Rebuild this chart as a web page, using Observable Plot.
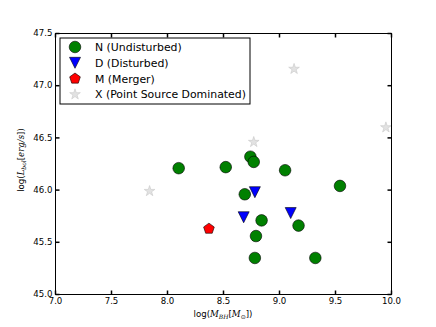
<!DOCTYPE html>
<html>
<head>
<meta charset="utf-8">
<script src="https://cdn.jsdelivr.net/npm/d3@7"></script>
<script src="https://cdn.jsdelivr.net/npm/@observablehq/plot@0.6"></script>
<style>
  html, body { margin: 0; padding: 0; background: #fff; }
  #chart svg { display: block; }
</style>
</head>
<body>
<div id="chart"></div>
<script>
// Data
const nMass = [8.10, 8.52, 8.74, 8.77, 9.05, 9.54, 8.69, 8.84, 9.17, 8.79, 8.78, 9.32];
const nLum  = [46.21, 46.22, 46.32, 46.27, 46.19, 46.04, 45.96, 45.71, 45.66, 45.56, 45.35, 45.35];
const dMass = [8.78, 8.68, 9.10];
const dLum  = [45.98, 45.74, 45.78];
const mMass = [8.37];
const mLum  = [45.63];
const xMass = [9.13, 9.95, 8.77, 7.84];
const xLum  = [47.16, 46.60, 46.46, 45.99];
const xTicks = [7.0, 7.5, 8.0, 8.5, 9.0, 9.5, 10.0];
const yTicks = [45.0, 45.5, 46.0, 46.5, 47.0, 47.5];
const legendLabels = ["N (Undisturbed)", "D (Disturbed)", "M (Merger)", "X (Point Source Dominated)"];

const zip = (xs, ys) => xs.map((x, i) => ({x, y: ys[i]}));
const N = zip(nMass, nLum), D = zip(dMass, dLum), M = zip(mMass, mLum), X = zip(xMass, xLum);

// custom symbols (size = area = pi r^2)
const rad = s => Math.sqrt(s / Math.PI);
const triDown = {draw(c, s) { const r = rad(s); c.moveTo(0, r); c.lineTo(-r, -r); c.lineTo(r, -r); c.closePath(); }};
const pentagon = {draw(c, s) { const r = rad(s); for (let i = 0; i < 5; i++) { const a = -Math.PI/2 + i * 2*Math.PI/5; const px = r*Math.cos(a), py = r*Math.sin(a); i ? c.lineTo(px, py) : c.moveTo(px, py); } c.closePath(); }};
const star = {draw(c, s) { const r = rad(s), ri = r * 0.381966; for (let i = 0; i < 10; i++) { const a = -Math.PI/2 + i * Math.PI/5; const rr = i % 2 ? ri : r; const px = rr*Math.cos(a), py = rr*Math.sin(a); i ? c.lineTo(px, py) : c.moveTo(px, py); } c.closePath(); }};
const T = 4;
const tickUp = {draw(c) { c.moveTo(0, 0); c.lineTo(0, -T); }};
const tickDown = {draw(c) { c.moveTo(0, 0); c.lineTo(0, T); }};
const tickRight = {draw(c) { c.moveTo(0, 0); c.lineTo(T, 0); }};
const tickLeft = {draw(c) { c.moveTo(0, 0); c.lineTo(-T, 0); }};

const xd = [xTicks[0], xTicks[xTicks.length-1]], yd = [yTicks[0], yTicks[yTicks.length-1]];

const plot = Plot.plot({
  width: 436, height: 327,
  marginLeft: 55, marginRight: 45, marginTop: 33, marginBottom: 33,
  style: {fontFamily: "DejaVu Sans", fontSize: "8.6px", background: "#fff", overflow: "visible"},
  x: {domain: xd, label: null},
  y: {domain: yd, label: null},
  marks: [
    Plot.axisX({ticks: xTicks, tickSize: 0, tickPadding: 3, tickFormat: d => d.toFixed(1), fill: "#000"}),
    Plot.axisY({ticks: yTicks, tickSize: 0, tickPadding: 3, tickFormat: d => d.toFixed(1), fill: "#000"}),
    Plot.dot(xTicks, {x: d => d, y: () => yd[0], symbol: tickUp, stroke: "#000", r: 1}),
    Plot.dot(xTicks, {x: d => d, y: () => yd[1], symbol: tickDown, stroke: "#000", r: 1}),
    Plot.dot(yTicks, {y: d => d, x: () => xd[0], symbol: tickRight, stroke: "#000", r: 1}),
    Plot.dot(yTicks, {y: d => d, x: () => xd[1], symbol: tickLeft, stroke: "#000", r: 1}),
    Plot.dot(X, {x: "x", y: "y", symbol: star, r: 5.6, fill: "#e2e2e2", stroke: "#c8c8c8", strokeWidth: 0.6}),
    Plot.dot(N, {x: "x", y: "y", symbol: "circle", r: 5.8, fill: "#008000", stroke: "#000", strokeWidth: 0.6}),
    Plot.dot(D, {x: "x", y: "y", symbol: triDown, r: 5.5, fill: "#0000ff", stroke: "#000", strokeWidth: 0.6}),
    Plot.dot(M, {x: "x", y: "y", symbol: pentagon, r: 5.6, fill: "#ff0000", stroke: "#000", strokeWidth: 0.6}),
    Plot.frame({stroke: "#000", strokeWidth: 1})
  ]
});

document.getElementById("chart").appendChild(plot);

// Axis labels with math-like italics and subscripts
const svg = d3.select(plot);
const xl = svg.append("text").attr("x", 223).attr("y", 317).attr("text-anchor", "middle")
  .attr("font-family", "DejaVu Sans").attr("font-size", 8.6).attr("fill", "#000");
xl.append("tspan").text("log(");
xl.append("tspan").attr("font-style", "italic").attr("font-family", "DejaVu Serif").text("M");
xl.append("tspan").attr("font-style", "italic").attr("font-family", "DejaVu Serif").attr("font-size", 6).attr("dy", 2).text("BH");
xl.append("tspan").attr("dy", -2).text("[");
xl.append("tspan").attr("font-style", "italic").attr("font-family", "DejaVu Serif").text("M");
xl.append("tspan").attr("font-size", 6).attr("dy", 2).text("\u2299");
xl.append("tspan").attr("dy", -2).text("])");

const yl = svg.append("text").attr("transform", "translate(24,160) rotate(-90)").attr("text-anchor", "middle")
  .attr("font-family", "DejaVu Sans").attr("font-size", 8.6).attr("fill", "#000");
yl.append("tspan").text("log(");
yl.append("tspan").attr("font-style", "italic").attr("font-family", "DejaVu Serif").text("L");
yl.append("tspan").attr("font-style", "italic").attr("font-family", "DejaVu Serif").attr("font-size", 6).attr("dy", 2).text("bol");
yl.append("tspan").attr("dy", -2).text("[");
yl.append("tspan").attr("font-style", "italic").attr("font-family", "DejaVu Serif").text("erg/s");
yl.append("tspan").text("])");

// Legend
const lg = svg.append("g").attr("transform", "translate(60,38)");
lg.append("rect").attr("x", 0).attr("y", 0).attr("width", 190).attr("height", 66)
  .attr("fill", "#fff").attr("stroke", "#000").attr("stroke-width", 1);
const legSyms = [
  {sym: d3.symbolCircle, r: 5.8, fill: "#008000", stroke: "#000"},
  {sym: triDown, r: 5.5, fill: "#0000ff", stroke: "#000"},
  {sym: pentagon, r: 5.6, fill: "#ff0000", stroke: "#000"},
  {sym: star, r: 5.6, fill: "#e2e2e2", stroke: "#c8c8c8"}
];
legendLabels.forEach((lab, i) => {
  const cy = 9 + i * 15.8;
  const s = legSyms[i];
  lg.append("path").attr("transform", `translate(15,${cy})`)
    .attr("d", d3.symbol(s.sym, Math.PI * s.r * s.r)())
    .attr("fill", s.fill).attr("stroke", s.stroke).attr("stroke-width", 0.6);
  lg.append("text").attr("x", 35).attr("y", cy).attr("dy", "0.36em").attr("text-anchor", "start")
    .attr("font-family", "DejaVu Sans").attr("font-size", 10.9).attr("fill", "#000").text(lab);
});
</script>
</body>
</html>
